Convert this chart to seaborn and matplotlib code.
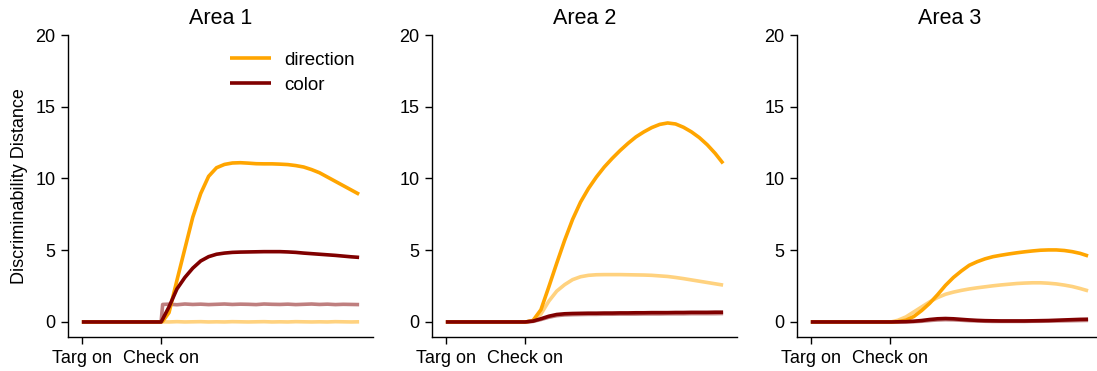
import matplotlib
matplotlib.use("Agg")
import matplotlib.pyplot as plt
import seaborn as sns
import pandas as pd

# Time axis (samples); 0 = target onset, 20 = checkerboard onset
time = [0, 5, 10, 15, 20, 20.4, 22, 24, 26, 28, 30, 32, 34, 36, 38, 40, 42, 44, 46,
        48, 50, 52, 54, 56, 58, 60, 62, 64, 66, 68, 70]
tick_positions = [0, 20]
tick_labels = ["Targ on", "Check on"]
area_titles = ["Area 1", "Area 2", "Area 3"]

# Area 1
direction_a1 = [0, 0, 0, 0, 0, 0.05, 0.65, 2.9, 5.1, 7.3, 8.95, 10.15, 10.75, 10.98, 11.08, 11.1,
                11.07, 11.03, 11.02, 11.02, 11.0, 10.97, 10.9, 10.8, 10.62, 10.4, 10.1, 9.8, 9.5, 9.2, 8.9]
color_a1 = [0, 0, 0, 0, 0, 0.2, 1.05, 2.3, 3.1, 3.75, 4.25, 4.55, 4.72, 4.8, 4.85, 4.87,
            4.88, 4.89, 4.9, 4.9, 4.9, 4.88, 4.85, 4.8, 4.76, 4.72, 4.68, 4.64, 4.59, 4.54, 4.5]
direction_faint_a1 = [0, 0, 0, 0, 0, 0.01, 0, 0.02, 0, 0.01, 0.02, 0, 0.01, 0, 0.02, 0.01,
                      0, 0.01, 0.02, 0, 0.01, 0, 0.02, 0.01, 0, 0.01, 0, 0.02, 0.01, 0, 0.01]
color_faint_a1 = [0, 0, 0, 0, 0, 1.22, 1.24, 1.2, 1.25, 1.22, 1.24, 1.21, 1.23, 1.25, 1.22, 1.24,
                  1.23, 1.21, 1.25, 1.23, 1.22, 1.24, 1.21, 1.23, 1.25, 1.22, 1.24, 1.21, 1.23, 1.22, 1.21]

# Area 2
direction_a2 = [0, 0, 0, 0, 0, 0.01, 0.1, 0.85, 2.45, 4.1, 5.7, 7.15, 8.35, 9.3, 10.1, 10.8,
                11.4, 11.95, 12.45, 12.9, 13.25, 13.55, 13.77, 13.87, 13.8, 13.57, 13.25, 12.85, 12.35, 11.75, 11.05]
color_a2 = [0, 0, 0, 0, 0, 0.01, 0.06, 0.22, 0.4, 0.52, 0.57, 0.59, 0.6, 0.61, 0.61, 0.62,
            0.62, 0.63, 0.63, 0.64, 0.64, 0.65, 0.65, 0.65, 0.66, 0.66, 0.67, 0.67, 0.67, 0.68, 0.68]
direction_faint_a2 = [0, 0, 0, 0, 0, 0.01, 0.1, 0.55, 1.45, 2.15, 2.6, 2.95, 3.15, 3.25, 3.29, 3.3,
                      3.3, 3.3, 3.29, 3.28, 3.27, 3.25, 3.21, 3.17, 3.1, 3.02, 2.93, 2.84, 2.75, 2.66, 2.57]
color_faint_a2 = [0, 0, 0, 0, 0, 0.01, 0.04, 0.17, 0.33, 0.44, 0.49, 0.51, 0.52, 0.53, 0.53, 0.54,
                  0.54, 0.55, 0.55, 0.55, 0.56, 0.56, 0.56, 0.57, 0.57, 0.57, 0.58, 0.58, 0.58, 0.58, 0.59]

# Area 3
direction_a3 = [0, 0, 0, 0, 0, 0, 0.02, 0.12, 0.38, 0.8, 1.3, 1.9, 2.55, 3.1, 3.55, 3.95,
                4.2, 4.4, 4.55, 4.65, 4.74, 4.82, 4.89, 4.95, 5.0, 5.02, 5.02, 4.98, 4.9, 4.78, 4.6]
color_a3 = [0, 0, 0, 0, 0, 0, 0.01, 0.02, 0.05, 0.1, 0.17, 0.22, 0.24, 0.22, 0.18, 0.14,
            0.11, 0.09, 0.08, 0.07, 0.07, 0.07, 0.07, 0.08, 0.09, 0.1, 0.12, 0.14, 0.16, 0.18, 0.19]
direction_faint_a3 = [0, 0, 0, 0, 0, 0.01, 0.12, 0.35, 0.7, 1.05, 1.4, 1.7, 1.93, 2.08, 2.2, 2.3,
                      2.38, 2.45, 2.52, 2.58, 2.63, 2.68, 2.71, 2.73, 2.73, 2.7, 2.65, 2.57, 2.47, 2.33, 2.17]
color_faint_a3 = [0, 0, 0, 0, 0, 0, 0, 0.01, 0.02, 0.05, 0.1, 0.14, 0.16, 0.15, 0.12, 0.09,
                  0.07, 0.05, 0.04, 0.04, 0.04, 0.04, 0.04, 0.05, 0.05, 0.06, 0.07, 0.08, 0.09, 0.1, 0.11]

areas = [
    (direction_a1, color_a1, direction_faint_a1, color_faint_a1),
    (direction_a2, color_a2, direction_faint_a2, color_faint_a2),
    (direction_a3, color_a3, direction_faint_a3, color_faint_a3),
]

ORANGE = "#FFA500"
MAROON = "#800000"
ORANGE_FAINT = "#FFD27F"
MAROON_FAINT = "#BF7F7F"

sns.set_style("ticks")
plt.rcParams.update({
    "font.family": ["Liberation Sans", "DejaVu Sans"],
    "axes.edgecolor": "black",
    "axes.labelcolor": "black",
    "text.color": "black",
    "xtick.color": "black",
    "ytick.color": "black",
    "axes.linewidth": 1.0,
    "lines.solid_capstyle": "butt",
})

fig = plt.figure(figsize=(10.97, 3.71), dpi=100)
lefts = [0.062, 0.3938, 0.7265]
axes = [fig.add_axes([l, 0.0916, 0.278, 0.814]) for l in lefts]

for i, (ax, (d, c, d_f, c_f)) in enumerate(zip(axes, areas)):
    df = pd.DataFrame({"time": time, "direction": d, "color": c,
                       "direction_faint": d_f, "color_faint": c_f})
    sns.lineplot(data=df, x="time", y="direction_faint", color=ORANGE_FAINT, lw=2.6, ax=ax)
    sns.lineplot(data=df, x="time", y="color_faint", color=MAROON_FAINT, lw=2.6, ax=ax)
    sns.lineplot(data=df, x="time", y="direction", color=ORANGE, lw=2.6, ax=ax,
                 label="direction" if i == 0 else None)
    sns.lineplot(data=df, x="time", y="color", color=MAROON, lw=2.6, ax=ax,
                 label="color" if i == 0 else None)

    ax.set_ylim(-1.05, 20)
    ax.set_xlim(-3.5, 73.5)
    ax.set_yticks([0, 5, 10, 15, 20])
    ax.set_xticks(tick_positions)
    ax.set_xticklabels(tick_labels)
    ax.tick_params(axis="both", labelsize=13, length=5, width=1.0, pad=4)
    ax.set_xlabel("")
    ax.set_ylabel("Discriminability Distance" if i == 0 else "", fontsize=13, labelpad=5)
    ax.set_title(area_titles[i], fontsize=15.5, pad=8)
    sns.despine(ax=ax)

    if i == 0:
        ax.legend(loc="upper right", bbox_to_anchor=(0.995, 1.0), frameon=False,
                  fontsize=13.5, handlelength=2.2, handletextpad=0.7, labelspacing=0.4)
    elif ax.get_legend() is not None:
        ax.get_legend().remove()

fig.savefig("out.png", dpi=100)
